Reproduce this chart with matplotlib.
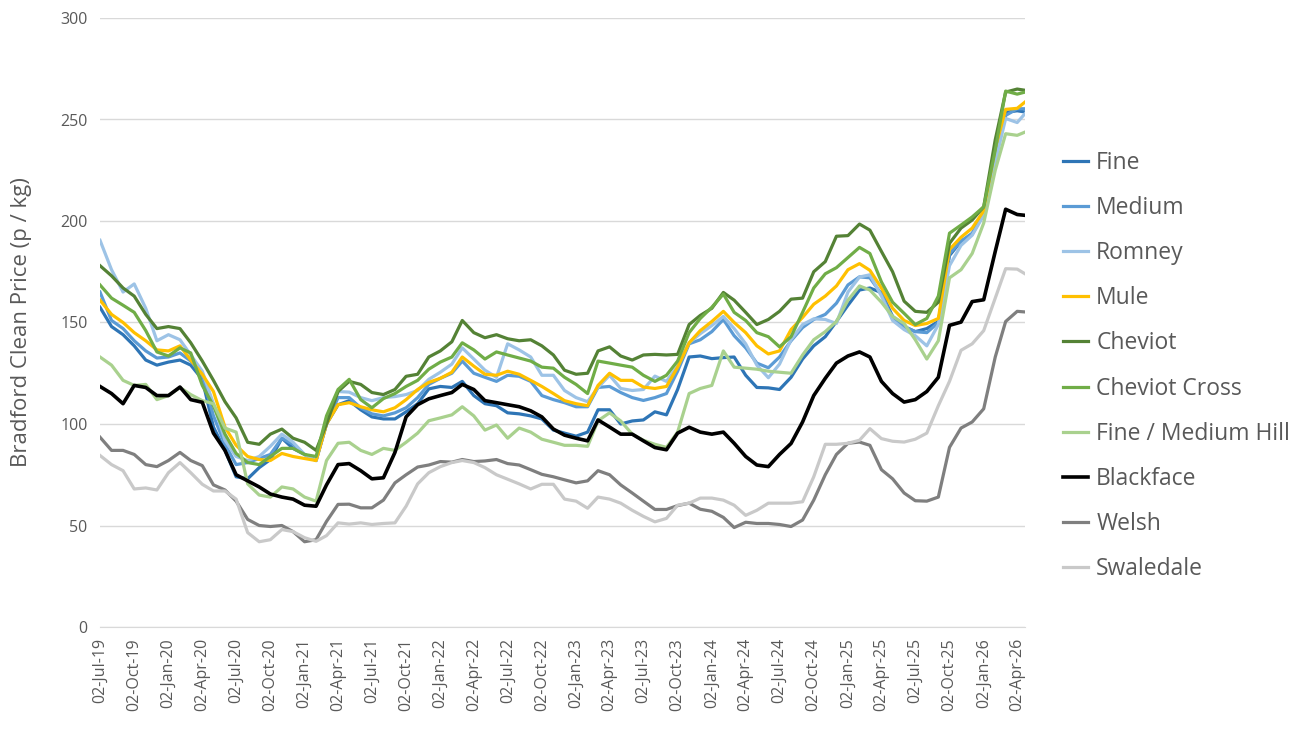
import pandas as pd
import matplotlib
matplotlib.use("Agg")
import matplotlib.pyplot as plt
import matplotlib.dates as mdates

plt.rcParams['font.family'] = ['Open Sans', 'DejaVu Sans']

# monthly sample dates (2nd of each month) plus the last reading
dates = list(pd.date_range('2019-07-02', periods=82, freq=pd.DateOffset(months=1)))
dates.append(pd.Timestamp('2026-04-23'))

fine = [157.5, 148, 144, 138.5, 131.5, 129, 130.5, 131.5, 129, 122,
        98.5, 87, 74, 73, 78.5, 82.5, 93, 88, 85, 82,
        100, 109.5, 111.5, 107, 103.5, 102.5, 102.5, 106, 110, 117.3,
        118.5, 118, 121, 114, 110, 109, 105.5, 105, 104, 102.5,
        97, 95.5, 94, 96, 107, 107, 100, 101.5, 102, 106,
        104.5, 117, 133, 133.5, 132.2, 132.7, 133, 124, 118, 117.8,
        117, 123, 132, 138.5, 143, 150.5, 158.5, 166, 167, 164.7,
        153, 148, 145.5, 147, 150.5, 183, 190, 193.5, 203.6, 232,
        253.5, 254.3, 253.7]
medium = [165, 151, 147, 141, 136, 132.5, 133, 135, 131, 124,
          104, 90, 80, 81, 83, 85, 93, 90, 85, 82,
          100, 113, 113, 108, 105, 104, 105.5, 108, 113, 119.5,
          122.5, 125, 131, 125, 123, 121, 124, 123.5, 121, 114,
          112, 110.5, 108.5, 108.5, 118, 118.5, 115.5, 113, 111.6, 113,
          115, 126, 139.5, 141.5, 145.5, 151.5, 143.5, 137.5, 130, 127.7,
          133, 141, 147.5, 151.5, 154, 159.5, 168.5, 172.5, 172, 164,
          152, 148, 145.5, 145, 150, 184, 190, 194, 203.6, 232,
          252, 255.3, 255.3]
romney = [190.5, 176, 165, 169, 157, 141, 144, 141.5, 134, 126,
          110, 92, 84, 82, 84, 89, 95, 91, 85, 82,
          103, 116, 115.7, 113, 111.5, 113, 113.5, 114.5, 116.5, 122,
          125.5, 129.5, 137.5, 132, 126.5, 123, 139.5, 136.5, 133, 124,
          124, 116.5, 113, 111, 118, 124, 117.5, 116.5, 117, 123.6,
          121, 128.5, 140, 144.5, 148.5, 153, 147, 139.5, 129, 122.8,
          129.5, 141.5, 149, 151.8, 151.5, 149.5, 165, 172.4, 173.5, 163,
          151, 146.5, 143.5, 138.5, 149, 178, 188, 193, 202.8, 229,
          250.5, 248.5, 252.9]
mule = [161, 154, 150, 145, 141, 136.5, 136, 138.5, 131.5, 124.5,
        116, 98.5, 89.5, 84, 82.5, 82, 85.5, 84, 83, 82,
        100, 109.5, 110.5, 108.5, 107, 106, 108, 112, 117, 120.5,
        122.5, 125.5, 133, 128.5, 124.5, 124, 126, 124.5, 121.5, 118.5,
        115, 111.5, 110, 109, 119, 125, 121.5, 121.5, 118.2, 117.5,
        118.5, 128, 140, 146, 150.5, 155.5, 150, 145, 138.5, 134.5,
        136, 146.5, 152.5, 159, 163, 168, 176, 179, 175.7, 167,
        157, 151, 148.5, 149.5, 152, 186, 192, 196.5, 205, 236,
        255, 255.5, 258.6]
cheviot = [178, 173, 167, 163, 154, 147, 148, 147, 140, 131,
           121.5, 111, 103, 91, 90, 95, 97.5, 93, 91, 87,
           100, 116, 121, 119.5, 115.5, 114.5, 117, 123.5, 124.5, 133,
           136, 140.5, 151, 145, 142.5, 144, 142, 141, 141.5, 138.5,
           134, 126.5, 124.5, 125, 136, 138, 133.5, 131.5, 134, 134.3,
           134, 134.3, 149, 153.5, 157, 164.8, 161, 155, 149, 151.5,
           155.5, 161.5, 162, 175, 180, 192.5, 192.8, 198.5, 195.5, 185,
           175, 160.5, 155.5, 155, 160, 189, 196.5, 200.5, 207, 240,
           263.5, 265, 264.4]
cheviot_cross = [168.5, 162, 158.5, 155, 146, 135.5, 133.5, 137.5, 135, 119,
                 109, 95, 85.5, 81, 80, 84, 88, 88, 85, 84,
                 104, 117, 122, 112, 108, 112.5, 115, 118.5, 121.5, 127,
                 130.5, 133, 140, 136.5, 132, 135.5, 134, 132.5, 131, 128,
                 127.5, 123, 119.5, 115, 131, 130, 129, 128, 124, 121,
                 124, 131, 145, 152, 157.5, 164, 155, 151, 145, 143,
                 138, 143, 155, 167, 174, 177, 182, 187, 184, 170,
                 160, 154.5, 149, 152, 163, 194, 198, 202, 207, 235,
                 264, 262.5, 263.5]
fine_medium_hill = [133, 129, 121.5, 119, 119.5, 112, 114, 118, 114.5, 111.5,
                    110, 98, 96, 70.5, 65, 64, 69, 68, 64, 62,
                    82, 90.5, 91, 87, 85, 88, 87, 91, 95.5, 101.6,
                    103, 104.5, 108.5, 104, 97, 99.5, 93, 98, 96, 92.5,
                    91, 89.5, 89.5, 89, 101.6, 105.5, 101.5, 95, 92, 90,
                    88.5, 96, 115, 117.5, 119, 136, 128, 127.5, 127, 126,
                    125.5, 125, 134, 141.5, 145.5, 150.5, 161, 168, 166, 160,
                    153, 149.5, 141.5, 132, 141, 172, 176, 184, 199, 225,
                    243, 242.2, 243.8]
blackface = [118.5, 115, 110, 119, 118, 114, 114, 118.2, 112, 110.7,
             95.5, 87, 75, 72, 69, 65.5, 64, 63, 60, 59.5,
             70, 80, 80.5, 77, 73, 73.5, 86, 103.5, 109.5, 112.4,
             114, 115.5, 119.5, 117, 111.5, 110.5, 109.5, 108.5, 106.5, 103.5,
             97.5, 94.5, 93, 91.7, 102, 98.5, 95, 95, 91.7, 88.4,
             87.3, 95.5, 98.4, 96, 95, 96, 90.5, 84, 79.8, 79,
             85, 90.4, 101, 114, 122.5, 130, 133.5, 135.5, 133, 121,
             115, 110.8, 112, 116, 123, 148.6, 150.2, 160.3, 161.2, 185,
             205.8, 203.2, 202.8]
welsh = [93.5, 87, 87, 85, 80, 79, 82, 86, 82, 79.5,
         70, 67.5, 62, 53, 50, 49.5, 50, 47, 42, 43,
         52, 60.4, 60.5, 58.7, 58.7, 62.5, 71, 75, 78.8, 79.8,
         81.5, 81.2, 82.5, 81.5, 81.8, 82.5, 80.5, 79.8, 77.5, 75.2,
         74, 72.5, 71, 72, 77, 75, 70, 66, 62, 57.9,
         57.9, 59.8, 61, 58, 57, 54, 49, 51.6, 51, 51,
         50.5, 49.5, 52.7, 62.5, 75, 85, 90.5, 91.1, 89.5, 77.5,
         73, 66, 62.2, 62, 64, 88.5, 98, 101, 107.5, 133,
         150.5, 155.5, 155.2]
swaledale = [84.5, 80, 77, 68, 68.5, 67.5, 76, 81, 76, 70.3,
             67, 67, 63, 46.5, 42, 43, 48, 47, 44, 42.2,
             45, 51.3, 50.7, 51.3, 50.5, 51, 51.3, 59.5, 70.5, 76,
             79, 81, 82, 81, 78.5, 75, 72.8, 70.5, 68, 70.3,
             70.3, 63, 62, 58.5, 64, 63, 61, 57.5, 54.5, 51.8,
             53.5, 60, 61, 63.5, 63.5, 62.5, 60, 55, 57.5, 61,
             61, 61, 61.7, 74, 90, 90, 90.5, 92, 97.7, 92.8,
             91.5, 91.1, 92.5, 95.5, 109, 121, 136.3, 139.5, 146, 162,
             176.5, 176.3, 174]

series = [
    ('Fine', fine, '#2E75B6', 2.3),
    ('Medium', medium, '#5B9BD5', 2.3),
    ('Romney', romney, '#9DC3E6', 2.3),
    ('Mule', mule, '#FFC000', 2.3),
    ('Cheviot', cheviot, '#548235', 2.3),
    ('Cheviot Cross', cheviot_cross, '#70AD47', 2.3),
    ('Fine / Medium Hill', fine_medium_hill, '#A9D18E', 2.3),
    ('Blackface', blackface, '#000000', 2.6),
    ('Welsh', welsh, '#7F7F7F', 2.3),
    ('Swaledale', swaledale, '#C9C9C9', 2.3),
]

tick_dates = pd.date_range('2019-07-02', '2026-04-02', freq=pd.DateOffset(months=3))

fig = plt.figure(figsize=(13.15, 7.31), dpi=100)
ax = fig.add_axes([100 / 1315, 1 - 627 / 731, 925 / 1315, 609 / 731])

for name, vals, col, lw in series:
    ax.plot(dates, vals, color=col, lw=lw, label=name, solid_joinstyle='round')

ax.set_ylim(0, 300)
ax.set_yticks(range(0, 301, 50))
ax.set_xlim(dates[0], dates[-1])
ax.set_xticks(tick_dates)
ax.xaxis.set_major_formatter(mdates.DateFormatter('%d-%b-%y'))
plt.setp(ax.get_xticklabels(), rotation=90)

ax.grid(axis='y', color='#D9D9D9', lw=1)
ax.set_axisbelow(True)
for s in ['top', 'right', 'left']:
    ax.spines[s].set_visible(False)
ax.spines['bottom'].set_color('#D9D9D9')
ax.tick_params(axis='both', length=0, labelsize=11.5, colors='#595959')
ax.tick_params(axis='x', pad=8)
ax.tick_params(axis='y', pad=9)

ax.set_ylabel('Bradford Clean Price (p / kg)', fontsize=16, color='#595959')
ax.yaxis.set_label_coords(-0.074, 0.5)

fig.legend(loc='center left', bbox_to_anchor=(1063 / 1315, 1 - 366 / 731),
           frameon=False, fontsize=16.5, labelcolor='#595959',
           borderpad=0, borderaxespad=0,
           handlelength=1.1, handletextpad=0.35, labelspacing=0.92)

fig.savefig('out.png', dpi=100)
